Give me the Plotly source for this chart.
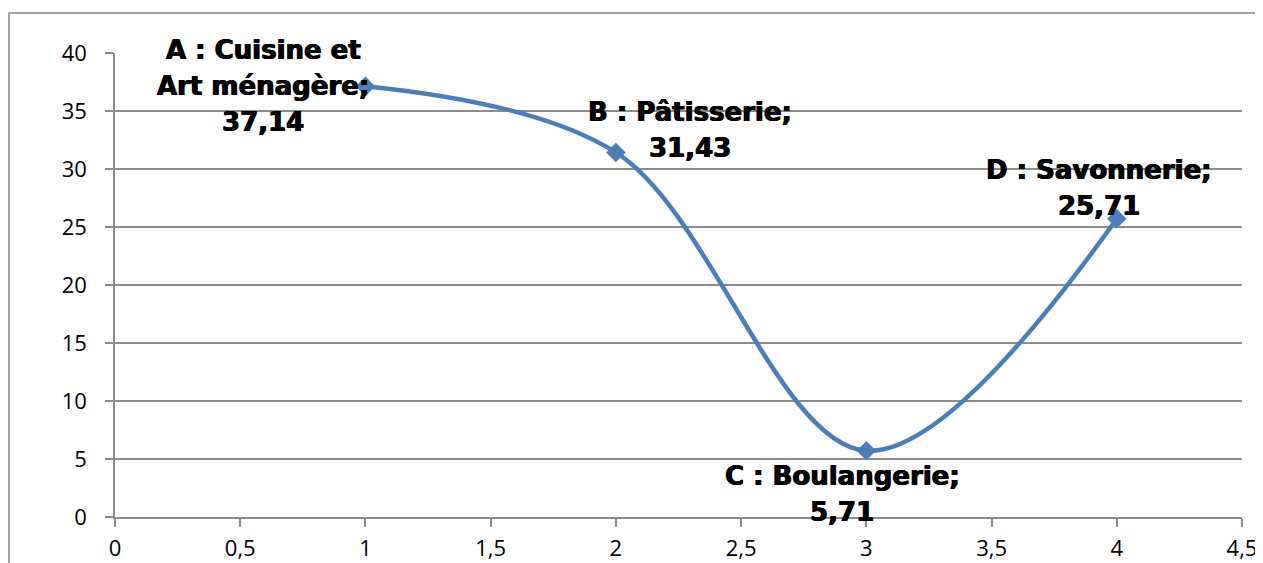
import plotly.graph_objects as go

# ---- data ----
x_values = [1, 2, 3, 4]
y_values = [37.14, 31.43, 5.71, 25.71]
categories = ["A : Cuisine et<br>Art ménagère", "B : Pâtisserie", "C : Boulangerie", "D : Savonnerie"]
x_tickvals = [0, 0.5, 1, 1.5, 2, 2.5, 3, 3.5, 4, 4.5]
x_ticktext = ["0", "0,5", "1", "1,5", "2", "2,5", "3", "3,5", "4", "4,5"]
y_tickvals = [0, 5, 10, 15, 20, 25, 30, 35, 40]

# ---- style ----
line_color = "#4A7EBB"
grid_color = "#8C8C8C"
label_offsets = [(-102, 36), (74, 40), (-24, -25), (-18, 49)]  # pixel offset of first label line
line_gap = 36

fig = go.Figure()
fig.add_trace(go.Scatter(
    x=x_values, y=y_values, mode="lines+markers",
    line=dict(color=line_color, width=4.5, shape="spline", smoothing=1),
    marker=dict(symbol="diamond", size=15, color=line_color),
    cliponaxis=False, hoverinfo="skip",
))

annotations = []
for xv, yv, cat, (dx, dy) in zip(x_values, y_values, categories, label_offsets):
    value_txt = f"{yv:.2f}".replace(".", ",")
    lines = (cat + ";").split("<br>") + [value_txt]
    for i, ln in enumerate(lines):
        annotations.append(dict(
            x=xv, y=yv, xref="x", yref="y", text=ln, showarrow=False,
            xanchor="center", yanchor="middle",
            xshift=dx, yshift=dy - i * line_gap,
            font=dict(family="DejaVu Sans", size=26, color="black", weight="bold",
                      shadow="0.6px 0 0 black, -0.6px 0 0 black"),
        ))

tick_font = dict(family="Open Sans", size=22, color="black")
fig.update_layout(
    width=1255, height=555,
    margin=dict(l=107, r=21, t=45, b=46, autoexpand=False),
    paper_bgcolor="white", plot_bgcolor="white",
    showlegend=False,
    annotations=annotations,
    xaxis=dict(
        range=[0, 4.5], tickvals=x_tickvals, ticktext=x_ticktext,
        showgrid=False, zeroline=False, automargin=False,
        showline=True, linecolor=grid_color, linewidth=1.5,
        ticks="outside", ticklen=8, tickcolor=grid_color, tickwidth=1.5,
        tickfont=tick_font, ticklabelstandoff=3,
    ),
    yaxis=dict(
        range=[0, 40], tickvals=y_tickvals, automargin=False,
        showgrid=True, gridcolor=grid_color, gridwidth=1.5,
        zeroline=False,
        showline=True, linecolor=grid_color, linewidth=1.5,
        ticks="outside", ticklen=8, tickcolor=grid_color, tickwidth=1.5,
        tickfont=tick_font, ticklabelstandoff=14,
    ),
    shapes=[dict(
        type="rect", xref="paper", yref="paper",
        x0=(9 - 115) / 1127, x1=(1275 - 115) / 1127,
        y0=(517 - 580) / 464, y1=(517 - 13) / 464,
        line=dict(color="#868686", width=1.5), fillcolor="rgba(0,0,0,0)", layer="below",
    )],
)

fig.write_html("out.html")
